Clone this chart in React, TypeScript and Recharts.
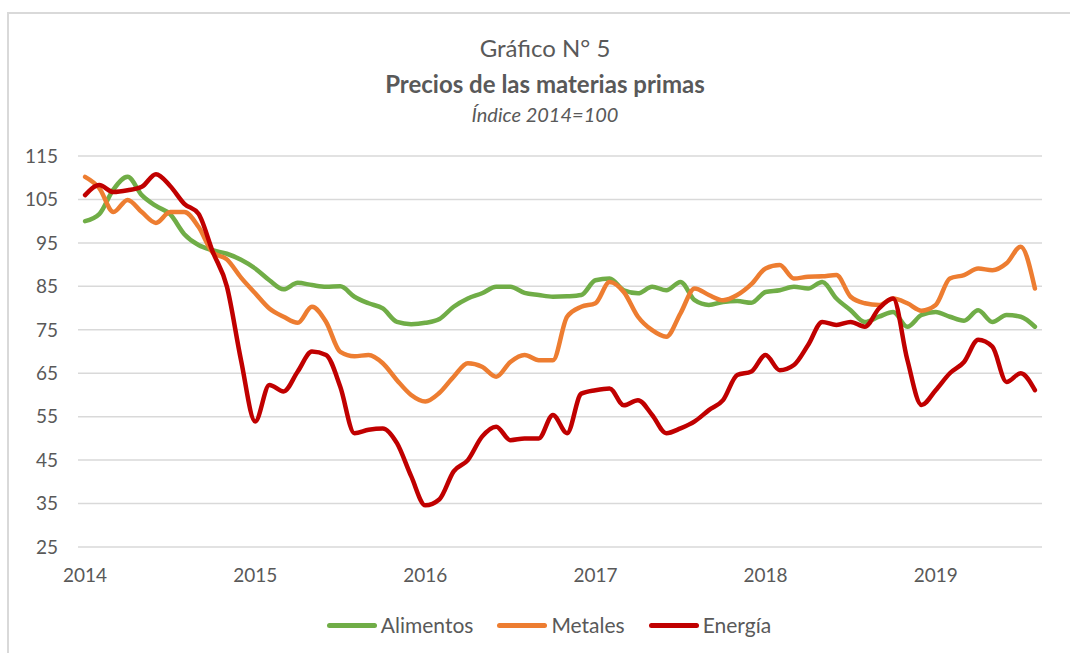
import React from 'react'
import { LineChart, Line, XAxis, YAxis, CartesianGrid } from 'recharts'

// monthly index values, Jan 2014 .. Aug 2019 (2014 = 100)
const YEARS = ['2014', '2015', '2016', '2017', '2018', '2019']

const ALIMENTOS = [
  100, 101.6, 107.3, 110.2, 106, 103.5, 101.6, 97, 94.5, 93.3, 92.5, 91.1,
  89.1, 86.4, 84.3, 85.8, 85.3, 84.9, 85, 82.6, 81.1, 79.9, 76.8, 76.3,
  76.6, 77.5, 80.3, 82.2, 83.4, 84.9, 84.9, 83.5, 83, 82.6, 82.7, 83,
  86.4, 86.8, 84.1, 83.4, 84.9, 84.1, 86, 81.8, 80.7, 81.4, 81.6, 81.2,
  83.7, 84.1, 84.9, 84.5, 86, 82.2, 79.5, 76.8, 78, 79.1, 75.7, 78.4,
  79.1, 78, 77.1, 79.5, 76.8, 78.4, 78, 75.7,
]

const METALES = [
  110.2, 107.6, 102.1, 104.9, 102.1, 99.6, 102.1, 102.1, 98.7, 92.8, 91.2, 87,
  83.4, 79.9, 78, 76.6, 80.3, 76.8, 69.9, 68.9, 69.2, 67.3, 63.4, 60,
  58.5, 60.5, 64.2, 67.3, 66.5, 64.2, 67.6, 69.2, 68, 68, 78, 80.3,
  81.1, 86, 83.7, 78, 74.9, 73.4, 78.8, 84.5, 83, 81.8, 83, 85.5,
  89.1, 89.9, 86.8, 87.2, 87.3, 87.6, 82.6, 81.1, 80.7, 82.2, 81.1, 79.4,
  80.7, 86.8, 87.6, 89.1, 88.7, 90.3, 94.1, 84.5,
]

const ENERGIA = [
  106, 108.3, 106.7, 107.1, 107.9, 110.8, 108.1, 104, 101.7, 93, 85, 68,
  53.9, 62.3, 60.8, 65.4, 70, 69.2, 61.9, 51.2, 52, 52.3, 48.9, 41.3,
  34.6, 36, 42.4, 45, 50.4, 52.7, 49.6, 50, 50, 55.4, 51.2, 60.3,
  61.1, 61.5, 57.6, 58.8, 55.4, 51.2, 52.3, 53.9, 56.5, 58.8, 64.6, 65.4,
  69.2, 65.7, 66.9, 71.5, 76.8, 76.1, 76.8, 75.7, 79.9, 82.2, 68.1, 57.7,
  61.1, 65, 67.6, 72.7, 71.1, 63, 65, 61.1,
]

const Y_TICKS = [25, 35, 45, 55, 65, 75, 85, 95, 105, 115]

const SERIES = [
  { key: 'alimentos', name: 'Alimentos', color: '#70AD47' },
  { key: 'metales', name: 'Metales', color: '#ED7D31' },
  { key: 'energia', name: 'Energía', color: '#C00000' },
]

const data = ALIMENTOS.map((v, i) => ({
  i,
  alimentos: v,
  metales: METALES[i],
  energia: ENERGIA[i],
}))

const FONT = 'Lato, "Open Sans", sans-serif'
const GREY = '#595959'

const titleLine: React.CSSProperties = {
  position: 'absolute',
  left: 0,
  width: 1090,
  textAlign: 'center',
  whiteSpace: 'nowrap',
}

export default function App() {
  return (
    <div
      style={{
        position: 'absolute',
        left: 0,
        top: 0,
        width: 1070,
        height: 653,
        background: '#fff',
        overflow: 'hidden',
        fontFamily: FONT,
        color: GREY,
      }}
    >
      <div
        style={{
          position: 'absolute',
          left: 7,
          top: 12,
          width: 1200,
          height: 800,
          border: '2px solid #d9d9d9',
        }}
      />
      <div style={{ ...titleLine, top: 32, fontSize: 24, lineHeight: '32px' }}>Gráfico N° 5</div>
      <div style={{ ...titleLine, top: 68, fontSize: 24, fontWeight: 700, lineHeight: '32px' }}>
        Precios de las materias primas
      </div>
      <div style={{ ...titleLine, top: 100, fontSize: 20, fontStyle: 'italic', lineHeight: '28px' }}>
        Índice 2014=100
      </div>

      <div style={{ position: 'absolute', left: 0, top: 0 }}>
        <LineChart
          width={1070}
          height={653}
          data={data}
          margin={{ top: 156, right: 28, bottom: 76, left: 18 }}
        >
          <CartesianGrid vertical={false} stroke="#d9d9d9" strokeWidth={1.5} />
          <XAxis
            dataKey="i"
            type="number"
            domain={[-0.5, 67.5]}
            ticks={[0, 12, 24, 36, 48, 60]}
            tickFormatter={(v: number) => YEARS[v / 12]}
            axisLine={false}
            tickLine={false}
            tickSize={0}
            tickMargin={22}
            height={30}
            tick={{ fill: GREY, fontSize: 19, fontFamily: FONT }}
          />
          <YAxis
            domain={[25, 115]}
            ticks={Y_TICKS}
            axisLine={false}
            tickLine={false}
            tickSize={0}
            tickMargin={20}
            width={60}
            tick={{ fill: GREY, fontSize: 19, fontFamily: FONT }}
          />
          {SERIES.map((s) => (
            <Line
              key={s.key}
              dataKey={s.key}
              name={s.name}
              type="monotone"
              stroke={s.color}
              strokeWidth={4.5}
              strokeLinecap="round"
              strokeLinejoin="round"
              dot={false}
              activeDot={false}
              isAnimationActive={false}
            />
          ))}
        </LineChart>
      </div>

      <div
        style={{
          position: 'absolute',
          top: 611,
          left: 0,
          width: 1098,
          display: 'flex',
          justifyContent: 'center',
          gap: 24,
          fontSize: 21,
          lineHeight: '28px',
        }}
      >
        {SERIES.map((s) => (
          <div key={s.key} style={{ display: 'flex', alignItems: 'center' }}>
            <span
              style={{
                display: 'inline-block',
                width: 50,
                height: 5,
                borderRadius: 3,
                background: s.color,
                marginRight: 4,
              }}
            />
            <span>{s.name}</span>
          </div>
        ))}
      </div>
    </div>
  )
}
